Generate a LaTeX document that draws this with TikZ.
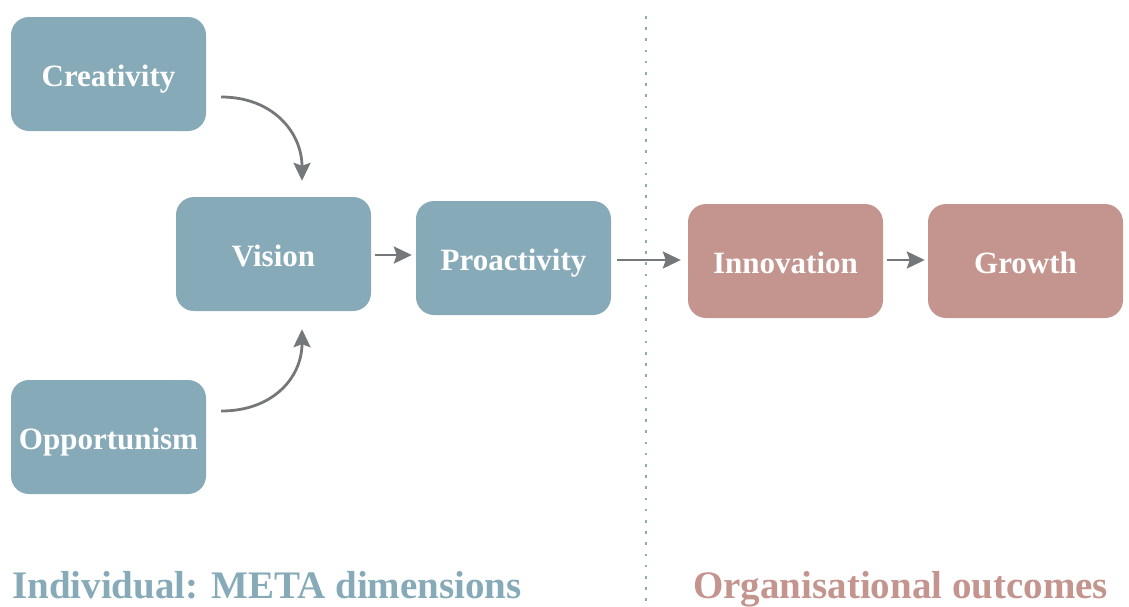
\documentclass[tikz,border=0pt]{standalone}
\usepackage{fontspec}
\setmainfont{Liberation Serif}
\usetikzlibrary{arrows.meta}
\definecolor{bluebox}{HTML}{87AAB9}
\definecolor{pinkbox}{HTML}{C3958E}
\definecolor{arrowgray}{HTML}{75787B}
\definecolor{dotblue}{HTML}{8AACBB}
\tikzset{
  box/.style={rounded corners=18pt, minimum width=195pt, minimum height=114pt,
    inner sep=0pt, text=white, font=\fontsize{31}{31}\selectfont\bfseries,
    text height=25pt, text depth=0pt},
  bbox/.style={box, fill=bluebox},
  pbox/.style={box, fill=pinkbox},
  arr/.style={draw=arrowgray, line width=2.8pt, -{Stealth[length=18pt,width=17pt,inset=3pt]}},
  sect/.style={anchor=base west, inner sep=0pt, font=\fontsize{39}{39}\selectfont\bfseries}
}
\begin{document}
\begin{tikzpicture}[x=1pt,y=-1pt]
\useasboundingbox (0,0) rectangle (1129,606);
\node[bbox] (cre) at (108.5,74) {Creativity};
\node[bbox] (vis) at (273.5,254) {Vision};
\node[bbox] (pro) at (513.5,258) {Proactivity};
\node[bbox] (opp) at (108.5,437) {Opportunism};
\node[pbox] (inn) at (785.5,261) {Innovation};
\node[pbox] (gro) at (1025.5,261) {Growth};
\coordinate (dtop) at (646,16);
\coordinate (dbot) at (646,606);
\draw[dotblue, line width=2.6pt, dash pattern=on 2.6pt off 8.6pt] (dtop) -- (dbot);
\draw[arr] ([xshift=15pt,yshift=-23pt]cre.east) .. controls +(52,0) and +(0,-48) .. ([xshift=28.5pt,yshift=16pt]vis.north);
\draw[arr] ([xshift=15pt,yshift=26pt]opp.east) .. controls +(52,0) and +(0,48) .. ([xshift=28.5pt,yshift=-18pt]vis.south);
\draw[arr] ([xshift=4pt,yshift=-1pt]vis.east) -- ([xshift=-4pt,yshift=-1pt]vis.east -| pro.west);
\draw[arr] ([xshift=6pt,yshift=-2pt]pro.east) -- ([xshift=-7pt,yshift=-2pt]pro.east -| inn.west);
\draw[arr] ([xshift=4pt,yshift=1pt]inn.east) -- ([xshift=-3pt,yshift=1pt]inn.east -| gro.west);
\node[sect, text=bluebox] (lind) at (12,598) {Individual: META dimensions};
\node[sect, text=pinkbox] (lorg) at (693,598) {Organisational outcomes};
\end{tikzpicture}
\end{document}
